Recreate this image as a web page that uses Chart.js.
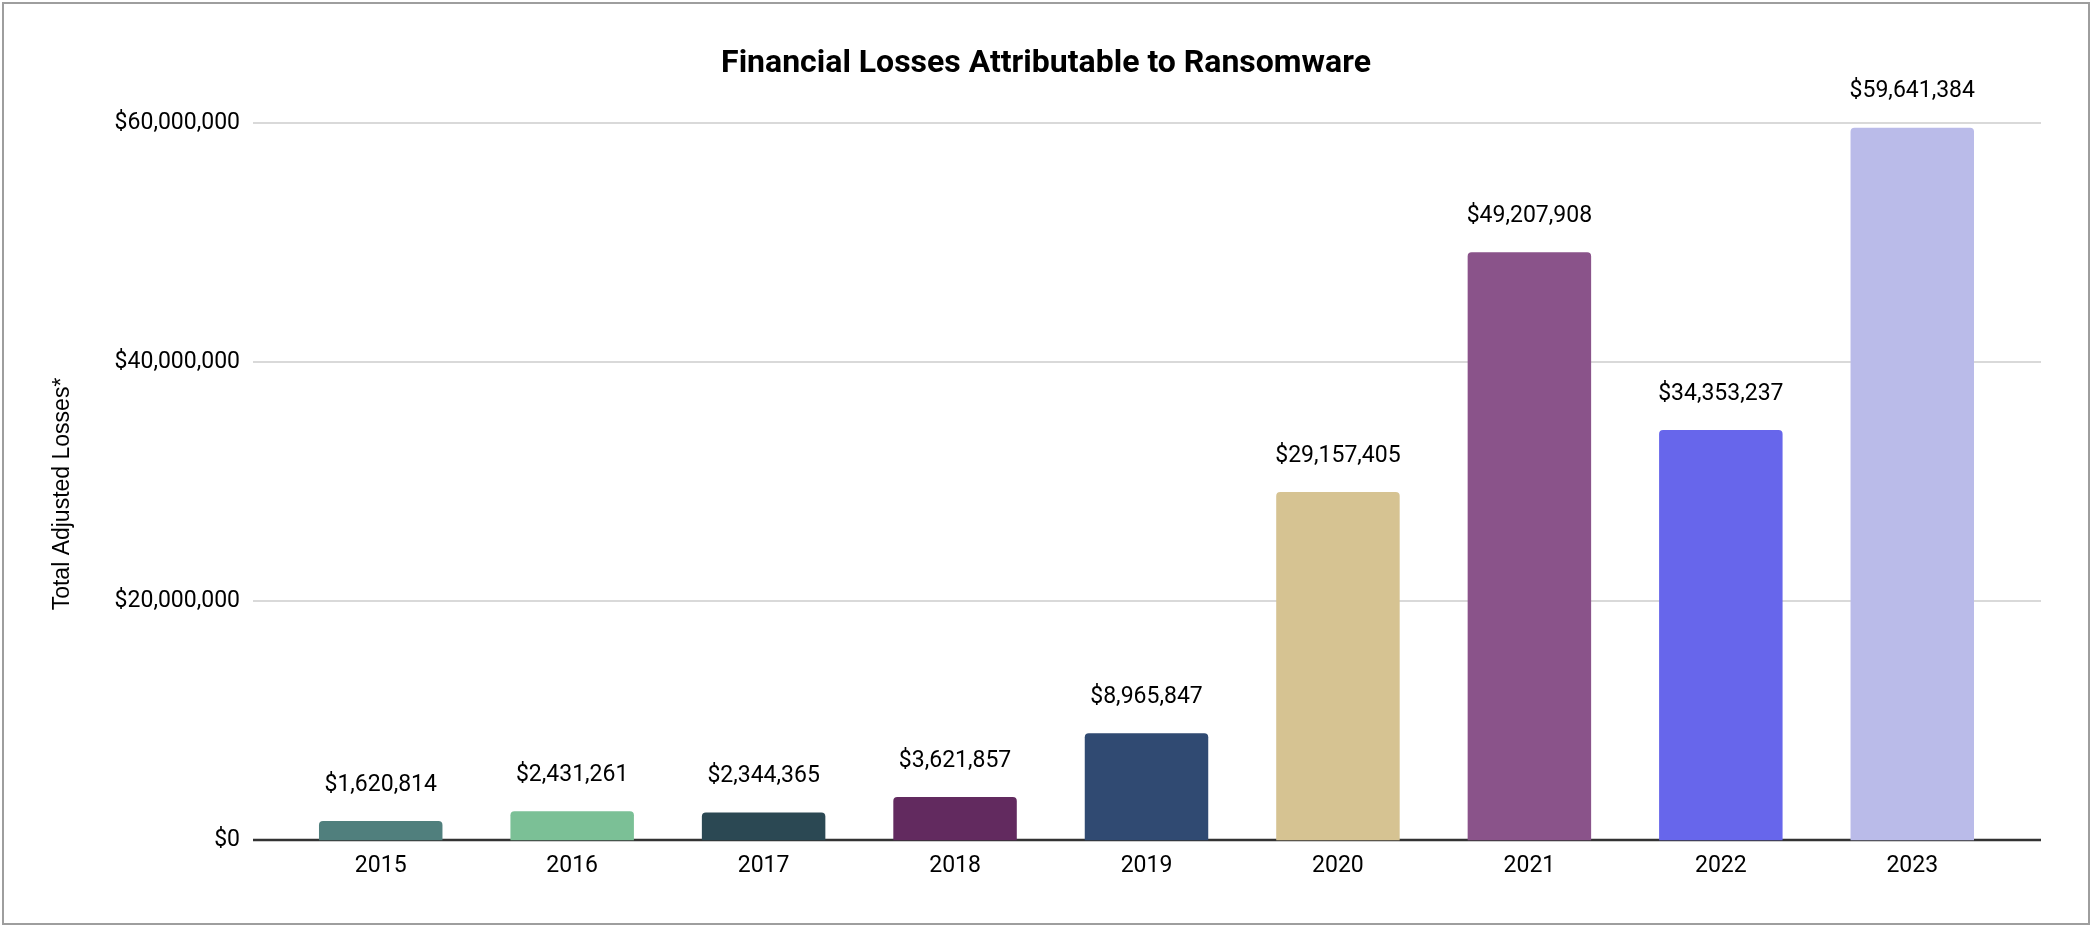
<!DOCTYPE html>
<html lang="en">
<head>
    <meta charset="UTF-8">
    <title>Financial Losses Attributable to Ransomware</title>
    <script src="https://cdn.jsdelivr.net/npm/chart.js"></script>
    <style>
        html, body { margin: 0; padding: 0; background: #fff; }
        #wrap { position: relative; width: 2092px; height: 926px; }
        #frame { position: absolute; left: 2px; top: 2px; width: 2084px; height: 919px; border: 2px solid #9e9e9e; box-sizing: content-box; pointer-events: none; }
    </style>
</head>
<body>
    <div id="wrap">
        <canvas id="lossChart" width="2092" height="926"></canvas>
        <div id="frame"></div>
    </div>

    <script>
        const years = ['2015', '2016', '2017', '2018', '2019', '2020', '2021', '2022', '2023'];
        const losses = [1620814, 2431261, 2344365, 3621857, 8965847, 29157405, 49207908, 34353237, 59641384];
        const barColors = ['#507f7d', '#7bc096', '#2b4853', '#622a5f', '#304a72', '#d6c392', '#8a538a', '#6766eb', '#babbe9'];
        const yTicks = [0, 20000000, 40000000, 60000000];
        const yTitle = 'Total Adjusted Losses*';

        const money = v => '$' + Number(v).toLocaleString('en-US');
        const FONT = 'Roboto, "Liberation Sans", sans-serif';

        // horizontal grid lines that run a bit past the bars, like the sheets chart
        const gridPlugin = {
            id: 'wideGrid',
            beforeDatasetsDraw(chart) {
                const { ctx, chartArea } = chart;
                const y = chart.scales.y;
                const x0 = chartArea.left - 32, x1 = chartArea.right + 33;
                ctx.save();
                yTicks.forEach(t => {
                    const py = Math.round(y.getPixelForValue(t));
                    ctx.beginPath();
                    ctx.moveTo(x0, py);
                    ctx.lineTo(x1, py);
                    ctx.lineWidth = t === 0 ? 2.5 : 1.5;
                    ctx.strokeStyle = t === 0 ? '#333333' : '#cccccc';
                    ctx.stroke();
                });
                ctx.restore();
            }
        };

        // value labels above bars + the y axis title (sits lower than the plot middle in the original)
        const labelPlugin = {
            id: 'barValues',
            afterDatasetsDraw(chart) {
                const { ctx } = chart;
                const meta = chart.getDatasetMeta(0);
                ctx.save();
                ctx.font = '23px ' + FONT;
                ctx.fillStyle = '#000';
                ctx.textAlign = 'center';
                ctx.textBaseline = 'middle';
                meta.data.forEach((bar, i) => {
                    ctx.fillText(money(losses[i]), bar.x, bar.y - 36);
                });
                ctx.font = '23px "Liberation Sans", Arial, sans-serif';
                ctx.translate(63, 494);
                ctx.rotate(-Math.PI / 2);
                ctx.fillText(yTitle, 0, 0);
                ctx.restore();
            }
        };

        new Chart(document.getElementById('lossChart'), {
            type: 'bar',
            data: {
                labels: years,
                datasets: [{
                    data: losses,
                    backgroundColor: barColors,
                    borderRadius: { topLeft: 4, topRight: 4 },
                    borderSkipped: 'bottom',
                    barPercentage: 0.645,
                    categoryPercentage: 1
                }]
            },
            options: {
                responsive: false,
                animation: false,
                layout: { padding: { left: 47, right: 47, top: 0, bottom: 42 } },
                plugins: {
                    legend: { display: false },
                    tooltip: { enabled: false },
                    title: {
                        display: true,
                        text: 'Financial Losses Attributable to Ransomware',
                        color: '#000',
                        font: { family: FONT, size: 32, weight: 'bold' },
                        padding: { top: 45, bottom: 40 }
                    }
                },
                scales: {
                    x: {
                        grid: { display: false },
                        border: { display: false },
                        ticks: { color: '#000', font: { family: FONT, size: 23 }, padding: 4 }
                    },
                    y: {
                        min: 0,
                        max: 60000000,
                        grid: { display: false, drawTicks: false },
                        border: { display: false },
                        afterBuildTicks(scale) { scale.ticks = yTicks.map(v => ({ value: v })); },
                        afterFit(scale) { scale.width = 238; },
                        ticks: {
                            color: '#000',
                            font: { family: FONT, size: 23 },
                            padding: 45,
                            callback: v => money(v)
                        }
                    },
                    // empty spacer on the right so the plot sits where the original does
                    spacer: {
                        type: 'linear',
                        position: 'right',
                        grid: { display: false, drawTicks: false },
                        border: { display: false },
                        ticks: { display: false },
                        afterFit(scale) { scale.width = 37; }
                    }
                }
            },
            plugins: [gridPlugin, labelPlugin]
        });
    </script>
</body>
</html>
